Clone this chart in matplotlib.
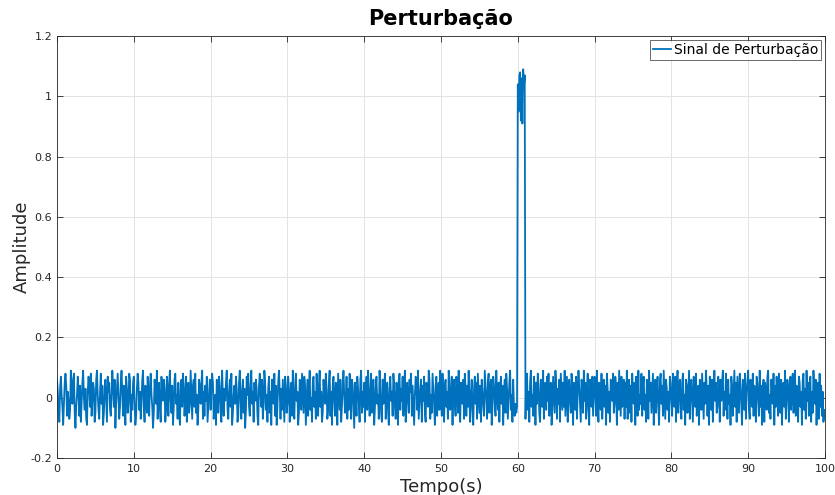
import numpy as np
import matplotlib
matplotlib.use("Agg")
import matplotlib.pyplot as plt

# disturbance signal, one sample every 0.1 s (0 .. 100 s)
signal = [
    .06,.02,-.05,-.08,.03,.07,.01,-.03,-.09,-.02,.05,.08,.04,-.06,.02,-.01,-.07,-.04,.09,.03,
    -.02,.06,.08,-.05,-.10,-.03,.01,.07,.02,-.06,.04,-.08,-.02,.05,.09,.00,-.04,.03,-.07,-.09,
    .02,.07,.04,-.03,.08,-.06,-.01,.05,.03,-.08,-.05,.06,.09,.01,-.04,-.07,.02,.08,-.02,.04,
    -.09,-.05,.03,.06,-.01,-.08,.07,.02,.05,-.04,-.06,.01,.09,.04,-.03,.06,-.10,-.02,.03,.08,
    .01,-.07,-.03,.05,.09,.02,-.06,.04,-.01,-.09,.07,.03,-.05,-.02,.08,.06,-.08,.01,-.04,.05,
    .07,-.02,-.09,-.06,.03,.08,.05,-.04,.02,-.07,-.01,.06,.09,-.03,-.08,.04,.00,-.05,.07,.02,
    -.06,.04,.08,.01,-.03,-.10,-.05,.06,.03,-.02,.09,-.07,.02,.05,-.04,-.08,.07,.01,-.01,.06,
    .03,-.08,-.04,.07,.02,-.06,.05,.09,-.01,-.05,.04,-.09,-.03,.06,.08,-.02,.01,-.07,.05,-.04,
    -.09,.02,.06,-.03,.08,.04,-.06,-.01,.07,-.08,.03,.05,-.05,-.02,.09,.01,-.07,.04,.06,-.03,
    .08,-.05,.01,-.09,-.04,.06,.03,-.02,.05,.09,-.07,.02,-.06,.04,-.01,.07,-.08,-.03,.02,.06,
    -.04,.03,.08,.05,-.07,-.02,.01,-.09,.06,.02,-.05,.07,.04,-.03,-.08,.09,.00,-.06,.03,-.01,
    .05,.09,-.04,-.07,.02,.06,-.03,.08,-.09,-.05,.01,.04,-.02,.07,.03,-.08,-.06,.05,.09,-.01,
    -.07,.02,.06,-.05,.03,-.10,-.04,.07,.01,.08,-.03,-.06,.04,.09,-.02,.02,-.08,.05,-.01,.06,
    .03,-.06,-.09,.04,.08,.01,-.03,.06,-.07,-.02,.09,.05,-.04,.01,-.08,.03,.07,-.05,.02,-.09,
    .06,.01,-.02,.08,-.06,.04,-.09,-.03,.05,.09,.02,-.07,.03,-.04,.06,-.01,-.08,.07,.04,-.05,
    -.02,.07,.03,-.08,.01,.05,-.06,.09,-.03,-.07,.04,.08,-.01,.02,-.09,-.05,.06,.03,-.04,.08,
    .01,-.05,.07,.04,-.09,-.02,.06,-.06,.03,.09,-.04,.00,-.08,.05,.07,-.03,.02,-.07,.08,-.01,
    -.06,.04,.09,-.03,.02,-.08,-.05,.06,.01,-.02,.08,.03,-.07,-.04,.05,.09,-.06,.02,-.09,.04,
    .07,-.01,-.06,.05,.03,-.09,.08,.02,-.04,.06,-.08,-.03,.04,.09,.01,-.05,-.02,.07,-.07,.03,
    -.04,.08,.02,-.07,.06,.04,-.03,-.10,.05,.01,-.06,.07,.03,-.02,-.08,.06,.09,-.05,.02,-.03,
    .05,-.08,.01,.07,-.04,.09,.03,-.06,-.01,.08,-.05,.02,.06,-.09,-.03,.04,.07,-.02,.01,-.07,
    .09,.03,-.05,-.08,.06,-.02,.04,.08,-.07,.01,.05,-.04,-.09,.03,.07,-.01,.02,-.06,.08,.04,
    -.03,-.07,.05,.02,-.09,.06,.08,-.04,.03,-.01,.07,-.06,.04,.09,-.08,-.02,.05,.01,-.05,.06,
    .02,.08,-.06,.04,-.03,-.09,.01,.07,.05,-.04,.09,-.07,-.02,.03,.06,-.08,.04,-.01,.07,-.05,
    -.08,.05,.02,-.03,.09,.06,-.07,.01,-.05,.08,.03,-.02,-.09,.04,.07,-.06,.01,.05,-.04,.09,
    .03,-.06,.08,-.01,-.08,.04,.06,-.03,.02,-.07,.09,.05,-.04,-.01,.07,-.09,.03,.06,-.02,-.06,
    .07,.02,-.05,.09,-.04,-.08,.05,.01,-.02,.06,-.07,.08,.03,-.06,.04,-.03,.09,-.01,-.08,.02,
    .06,-.04,-.09,.03,.07,-.02,.05,-.07,.08,.01,-.05,.04,-.08,.06,.02,-.03,-.06,.09,.04,-.01,
    -.07,.05,.08,-.05,.02,.06,-.09,-.03,.07,.04,-.02,-.06,.09,.01,-.04,.05,-.08,.03,.07,-.02,
    .04,-.09,.02,.06,-.05,.08,.03,-.07,-.01,.05,.09,-.04,.01,-.08,.06,-.03,-.06,-.02,-.05,-.03,
    1.04,.95,1.07,1.08,.92,1.06,.91,1.09,1.03,1.07,-.07,.06,.08,-.04,.02,-.08,.05,.09,-.03,.01,
    -.06,.07,.03,-.09,.05,-.02,.08,.04,-.05,-.08,.06,.01,-.03,.09,-.07,.02,.05,-.04,.07,-.01,
    .08,-.06,.02,.05,-.09,-.03,.07,.01,-.05,.09,.04,-.07,.03,-.02,.06,-.08,.08,.02,-.04,.05,
    -.03,.09,-.06,.01,.07,-.08,.04,.06,-.02,-.05,.08,.03,-.09,.05,.01,-.04,.07,-.07,.02,.09,
    .04,-.02,-.08,.06,.03,-.05,.09,-.01,.05,-.07,.02,.08,-.04,-.09,.06,.04,-.03,.07,-.06,.01,
    .07,.03,-.06,.09,-.02,-.08,.05,.02,-.04,.08,-.07,.01,.06,-.03,.04,-.09,.08,.03,-.05,.02,
    -.08,.06,.04,-.01,.08,-.05,-.02,.07,.03,-.09,.05,-.04,.09,.01,-.06,.07,-.03,.02,.06,-.07,
    .05,-.03,.09,-.07,.02,.06,-.05,.04,-.08,.08,.01,-.02,.05,-.09,.07,.03,-.06,.09,-.04,.01,
    -.02,.08,-.06,.04,.07,-.04,.01,-.08,.06,.03,-.07,.09,-.01,.05,-.05,.02,.08,-.09,.04,.06,
    -.05,.03,.07,-.03,-.09,.05,.08,-.02,.04,-.06,.09,.01,-.07,.06,.03,-.04,.02,-.08,.07,.05,
    -.01,-.06,.08,.04,-.03,.07,-.08,.02,.09,-.05,.03,.06,-.02,-.07,.05,.08,-.04,.01,-.09,.06,
    .04,-.05,.02,.09,-.07,.03,.06,-.01,-.08,.07,.05,-.03,.08,-.06,.01,.04,-.09,.06,.02,-.04,
    .08,.01,-.07,.05,-.02,.09,.03,-.06,.04,-.09,.07,.02,-.04,.06,-.08,.03,.09,-.01,.05,-.05,
    -.03,.07,.04,-.08,.06,-.01,.05,.09,-.06,.02,-.04,.08,.03,-.07,.06,-.02,.01,-.09,.07,.04,
    -.06,.02,.09,-.03,.05,-.08,.07,.01,-.05,.08,.04,-.02,-.09,.06,.03,-.04,.08,-.07,.02,.05,
    .09,-.04,-.07,.06,.02,-.03,.08,-.06,.04,.01,-.08,.07,.05,-.01,-.06,.09,-.03,.04,-.09,.03,
    .06,-.08,.05,.02,-.04,.07,.09,-.05,.01,-.07,.06,.03,-.02,.08,-.09,.04,-.03,.07,.01,-.06,
    .08,.03,-.05,.06,-.09,.02,.05,-.03,.09,-.07,-.01,.06,.04,-.08,.03,.07,-.04,.01,.08,-.05,
    -.02,.09,-.06,.04,.01,-.08,.07,.05,-.03,.02,-.09,.06,.08,-.04,.03,-.07,.09,-.01,.05,-.06,
    .04,.07,-.08,.02,-.05,.09,.03,-.02,.06,-.09,.01,.05,-.07,.08,-.03,.04,-.06,.02,-.08,-.04,
    -.07,
]
t_start, t_end = 0, 100
xticks = np.arange(0, 101, 10)
yticks = [-0.2, 0, 0.2, 0.4, 0.6, 0.8, 1, 1.2]
ytick_labels = ['-0.2', '0', '0.2', '0.4', '0.6', '0.8', '1', '1.2']

t = np.linspace(t_start, t_end, len(signal))

fig = plt.figure(figsize=(8.35, 4.95), dpi=100)
ax = fig.add_axes([0.0683, 0.0747, 0.9197, 0.8523])

ax.plot(t, signal, color='#0072BD', linewidth=1.3, label='Sinal de Perturbação')

ax.set_xlim(0, 100)
ax.set_ylim(-0.2, 1.2)
ax.set_xticks(xticks)
ax.set_yticks(yticks)
ax.set_yticklabels(ytick_labels)
ax.grid(True, color='#e3e3e3', linewidth=0.7)
ax.set_axisbelow(True)
ax.tick_params(direction='in', length=4, labelsize=8, colors='#262626',
               top=True, right=True, width=0.6)
ax.tick_params(axis='x', pad=4)
for s in ax.spines.values():
    s.set_color('#262626')
    s.set_linewidth(0.6)

ax.set_title('Perturbação', fontsize=15, fontweight='bold', pad=8)
ax.set_xlabel('Tempo(s)', fontsize=13, color='#262626', labelpad=3)
ax.set_ylabel('Amplitude', fontsize=13, color='#262626', labelpad=0)

leg = ax.legend(loc='upper right', fontsize=10, fancybox=False, borderaxespad=0.3,
                handlelength=1.3, handletextpad=0.2, borderpad=0.2)
leg.get_frame().set_edgecolor('#262626')
leg.get_frame().set_linewidth(0.6)

fig.savefig('out.png', dpi=100)
